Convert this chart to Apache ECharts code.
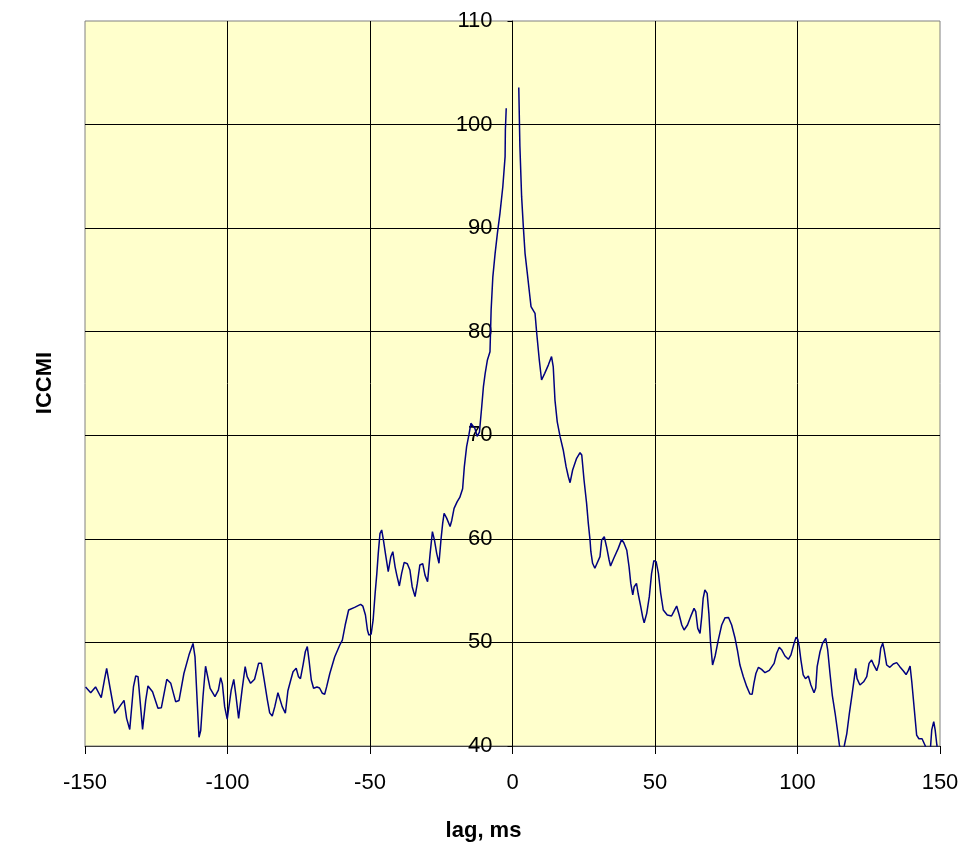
<!DOCTYPE html>
<html>
<head>
<meta charset="utf-8">
<script src="https://cdn.jsdelivr.net/npm/echarts@6/dist/echarts.min.js"></script>
<style>
html,body{margin:0;padding:0;background:#fff;}
#chart{width:967px;height:859px;}
</style>
</head>
<body>
<div id="chart"></div>
<script>
// lag (ms)
const lags = [
-149.8,-148,-146.3,-144.3,-143.1,-142.4,-141.2,-139.6,-138.1,-136.3,-135.4,-134.3,-133,-132.2,-131.4,-129.8,-128.7,-127.9,-126.3,-124.4,-123.2,-121.3,-119.9,-118.2,-117,-115.3,-113.5,-112.1,-111.4,-110.6,-110,-109.4,-108.6,-107.7,-106.1,-104.4,-103.2,-102.4,-101.8,-101,-100.1,
-98.7,-97.8,-97,-96.1,-94.9,-93.8,-93.1,-91.9,-90.5,-89.1,-88.1,-87.2,-86,-85.2,-84.3,-83.4,-82.3,-81.6,-80.8,-79.7,-78.8,-77.8,-77,-75.9,-75.1,-74.4,-73.5,-72.7,-72,-71.4,-70.6,-69.8,-68.6,-67.7,-66.7,-65.9,-65.2,-64.1,-62.4,-60.6,-59.7,-58.7,-57.5,-55.4,-53.3,-52.5,-51.6,-50.9,-50.4,-49.6,-48.9,-48.2,-47.6,-47.1,-46.5,-45.9,-45.3,-44.5,-43.6,-42.7,-42,-41.2,-40.6,-39.7,-38.9,-38,-36.9,-36,-35.2,-34.2,-33.4,-32.5,-31.5,-30.7,-29.8,-28.9,-28.1,-27.4,-26.6,-25.8,-25.1,-24.5,-24,-23.1,-21.9,-21.3,-20.5,-19.4,-18.5,-17.5,-16.9,-16.1,-15.3,-14.6,-14,-13.2,-12.4,-11.6,-10.8,-10.2,-9.6,-8.8,-7.9,-7.5,-6.9,-6.1,-5.3,-4.4,-3.4,-2.6,-2.5,-2.2,
0,
2.2,2.6,3.2,3.8,4.4,5.2,6.1,6.5,7.9,8.5,9.4,10.2,11.3,12.6,13.7,14.3,14.9,15.7,16.7,17.8,18.8,19.6,20.2,21.1,22.5,23.7,24.3,25.1,26,26.6,27.2,27.5,28.1,28.9,29.6,30.7,31.3,32.2,33,33.9,34.4,35.5,37.1,38.3,39.1,40.1,40.9,41.5,42.2,42.7,43.5,44.1,45,45.7,46.2,47.1,48,48.8,49.6,50.4,51.2,52,52.9,54.3,55.8,56.6,57.6,58.5,59.4,60.2,61.4,62.5,63.7,64.3,65,65.8,66.4,66.9,67.5,68.3,68.9,69.5,70.2,71.1,72.2,73.4,74.6,75.8,76.9,78.1,78.9,79.8,81,82.2,83.3,84.1,84.7,85.4,86.3,87.4,88.6,90.1,91.8,92.7,93.6,94.4,95.6,96.8,97.7,98.8,99.5,100.1,100.6,101.2,102,102.8,103.8,104.7,105.8,106.4,106.9,107.9,108.8,109.9,110.6,111.4,112.2,113.2,114,114.7,115.6,116.4,117.3,118.2,119.2,119.9,120.4,120.9,121.9,123.2,124.3,125.1,126,126.8,127.8,128.6,129.2,129.9,130.4,131.3,132.4,133.6,134.8,135.9,137.1,138.1,138.9,139.5,140.1,141,141.8,142.6,143.7,144.7,145.8,146.6,147.1,147.8,148.3,148.9,149.5,150
];
// ICCMI values (null = missing sample at zero lag)
const iccmi = [
45.7,45.15,45.7,44.66,46.5,47.5,45.6,43.16,43.7,44.4,42.67,41.6,45.7,46.76,46.7,41.6,44.4,45.8,45.24,43.64,43.7,46.44,46.05,44.28,44.4,47.0,48.8,49.9,48.6,44.1,40.84,41.5,44.76,47.7,45.57,44.76,45.4,46.6,46.0,43.8,42.6,
45.4,46.44,44.76,42.67,45.4,47.66,46.69,46.05,46.44,47.98,48.0,46.5,44.44,43.2,42.9,43.8,45.15,45.0,43.8,43.16,45.34,46.37,47.17,47.5,46.7,46.5,47.8,49.1,49.6,48.3,46.37,45.57,45.7,45.6,45.09,45.0,45.73,47.0,48.6,49.75,50.23,51.68,53.13,53.39,53.68,53.5,52.65,51.2,50.72,50.8,52.17,54.74,56.67,58.6,60.5,60.86,59.9,58.44,56.83,58.28,58.76,57.3,56.5,55.45,56.67,57.73,57.6,57.0,55.38,54.42,55.7,57.48,57.6,56.5,55.86,58.6,60.7,59.9,58.6,57.64,59.9,61.5,62.47,62.0,61.2,61.8,62.94,63.59,64.0,64.84,66.97,68.9,70.03,71.16,71.3,70.67,69.9,70.3,72.76,74.7,75.96,77.27,78.07,82.1,85.3,87.57,89.5,91.43,94.0,96.9,99.5,101.57,
null,
103.57,97.87,93.04,90.15,87.57,85.64,83.4,82.42,81.78,79.85,77.27,75.34,75.98,76.8,77.6,76.6,73.4,71.3,69.87,68.58,66.97,66.0,65.42,66.65,67.78,68.32,68.1,65.68,63.43,61.5,59.9,58.76,57.64,57.16,57.2,58.28,59.9,60.2,59.24,57.96,57.38,58.1,59.08,59.95,59.6,58.9,57.3,55.7,54.58,55.38,55.7,54.7,53.45,52.42,51.9,52.81,54.42,56.67,57.9,57.8,56.67,54.74,53.13,52.65,52.55,52.97,53.52,52.65,51.68,51.2,51.68,52.49,53.29,52.97,51.36,50.88,52.49,54.26,55.06,54.74,52.81,49.92,47.82,48.69,50.23,51.68,52.39,52.4,51.68,50.4,49.27,47.82,46.69,45.73,45.02,45.0,46.05,47.0,47.6,47.4,47.08,47.3,47.98,48.95,49.53,49.3,48.69,48.37,48.8,49.92,50.5,50.3,49.59,48.3,46.86,46.5,46.76,45.89,45.15,45.6,47.66,49.1,49.92,50.4,49.27,47.0,44.92,43.16,41.55,40.1,39.2,40.0,41.2,43.16,45.09,46.5,47.5,46.5,45.89,46.2,46.69,47.98,48.3,47.8,47.27,47.98,49.43,49.92,49.3,47.82,47.6,47.92,48.05,47.66,47.27,46.9,47.3,47.72,46.2,43.48,41.06,40.7,40.7,40.1,39.3,39.6,41.55,42.36,41.55,40.1,38.8,38.5
];
const xTicks = {min: -150, max: 150, step: 50};
const yTicks = {min: 40, max: 110, step: 10};
const xTitle = 'lag, ms';
const yTitle = 'ICCMI';

const FONT = '"Liberation Sans", Arial, sans-serif';
const data = lags.map((x, i) => [x, iccmi[i] === null ? '-' : iccmi[i]]);

const W = 967, GL = 85, GR = 27;
const plotW = W - GL - GR;
// shift the y axis so it crosses the x axis at lag 0
const yOffset = -plotW * (0 - xTicks.min) / (xTicks.max - xTicks.min);

const chart = echarts.init(document.getElementById('chart'), null, {renderer: 'canvas'});
chart.setOption({
  animation: false,
  backgroundColor: '#ffffff',
  grid: {
    left: GL, right: GR, top: 21, bottom: 113,
    show: true, backgroundColor: '#FFFFCC', borderColor: '#808080', borderWidth: 1
  },
  xAxis: {
    type: 'value',
    min: xTicks.min, max: xTicks.max, interval: xTicks.step,
    axisLine: {show: true, onZero: false, lineStyle: {color: '#404040', width: 1}},
    axisTick: {show: true, length: 8, inside: false, lineStyle: {color: '#000'}},
    axisLabel: {fontSize: 22, color: '#000', fontFamily: FONT, margin: 26},
    splitLine: {show: true, showMinLine: false, showMaxLine: false, lineStyle: {color: '#000', width: 1}}
  },
  yAxis: {
    type: 'value',
    position: 'left',
    offset: yOffset,
    min: yTicks.min, max: yTicks.max, interval: yTicks.step,
    axisLine: {show: true, onZero: false, lineStyle: {color: '#000', width: 1}},
    axisTick: {show: true, length: 5, inside: false, lineStyle: {color: '#000'}},
    axisLabel: {fontSize: 22, color: '#000', fontFamily: FONT, margin: 20},
    splitLine: {show: true, showMinLine: false, showMaxLine: false, lineStyle: {color: '#000', width: 1}}
  },
  graphic: [
    {type: 'text', left: 'center', top: 820, style: {text: xTitle, font: 'bold 22px ' + FONT, fill: '#000'}},
    {type: 'text', x: 45, y: 383, rotation: Math.PI / 2,
      style: {text: yTitle, font: 'bold 22px ' + FONT, fill: '#000', align: 'center', verticalAlign: 'middle'}}
  ],
  series: [{
    type: 'line',
    data: data,
    showSymbol: false,
    connectNulls: false,
    clip: true,
    lineStyle: {color: '#000080', width: 1.5},
    smooth: false
  }]
});
</script>
</body>
</html>
